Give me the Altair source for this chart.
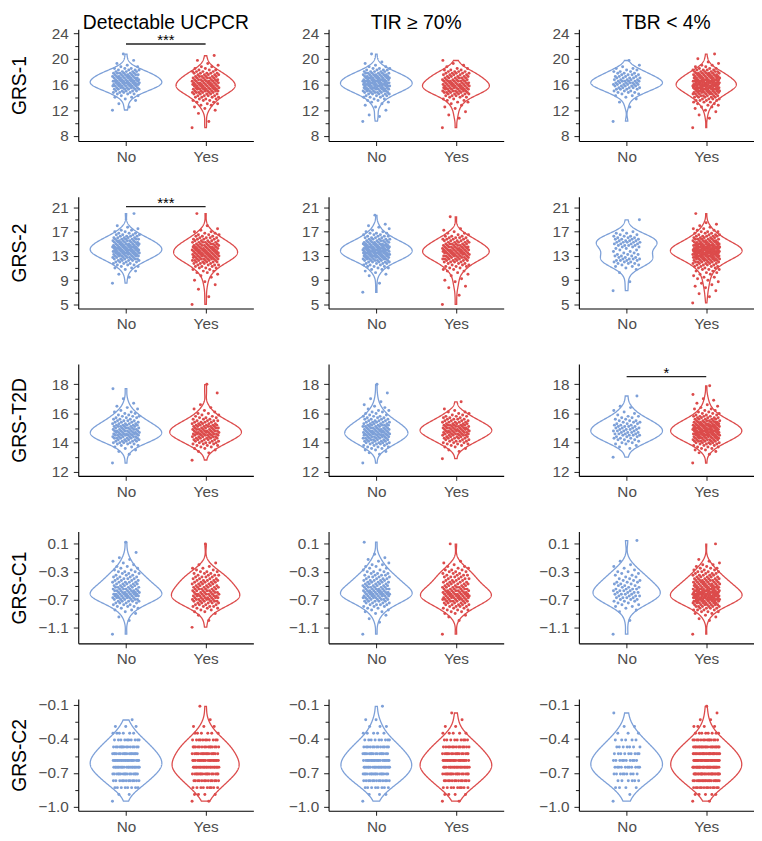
import json
import pandas as pd
import altair as alt

COLUMNS = ["Detectable UCPCR", "TIR ≥ 70%", "TBR < 4%"]
SCORES = ["GRS-1", "GRS-2", "GRS-T2D", "GRS-C1", "GRS-C2"]
GROUPS = ["No", "Yes"]
COLORS = ["#7DA0D8", "#DC4B4B"]

# value grid (lowest level, step) on which the point counts below were read
GRID = {
    "GRS-1": (9.0, 0.25),
    "GRS-2": (5.0, 0.25),
    "GRS-T2D": (12.5, 0.1),
    "GRS-C1": (-1.2, 0.025),
}
GRS_C2_LEVELS = [-0.95, -0.89, -0.83, -0.77, -0.71, -0.65, -0.59, -0.53,
                 -0.47, -0.41, -0.35, -0.29, -0.23, -0.17, -0.11]

# number of patients at each grid level, read from the jittered points
GRS1 = {
    ("Detectable UCPCR", "No"): [0,0,0,0, 0,0,0,0, 0,0,0,0, 1,0,1,0, 1,0,1,1, 2,2,3,4, 5,6,7,8, 9,9,9,8, 8,7,7,6, 5,4,3,2, 1,1,0,1, 0,0,0,1, 0],
    ("Detectable UCPCR", "Yes"): [0,1,0,0, 0,1,0,0, 0,0,1,0, 1,1,1,2, 2,2,3,3, 4,4,5,6, 7,8,8,8, 8,8,7,7, 6,6,5,5, 4,3,2,2, 1,1,0,1, 0,0,1,0, 0],
    ("TIR ≥ 70%", "No"): [0,0,0,0, 0,1,0,0, 1,1,0,0, 1,0,1,1, 1,2,2,2, 3,4,5,6, 7,8,9,10, 10,10,10,9, 9,8,7,6, 5,4,3,2, 1,1,1,0, 0,0,0,1, 0],
    ("TIR ≥ 70%", "Yes"): [0,1,0,0, 0,0,0,1, 0,1,0,1, 0,1,1,1, 1,2,2,2, 3,4,5,6, 7,7,8,8, 8,7,7,6, 6,5,5,5, 4,3,2,1, 1,1,0,1, 0,0,0,0, 0],
    ("TBR < 4%", "No"): [0,0,0,0, 0,1,0,0, 0,0,0,0, 0,0,1,0, 0,1,0,1, 1,2,2,3, 3,4,5,5, 6,6,6,5, 5,4,4,3, 3,2,2,1, 1,0,0,1, 0,0,0,0, 0],
    ("TBR < 4%", "Yes"): [0,1,0,0, 0,0,0,1, 0,1,0,1, 1,1,2,2, 2,3,4,4, 5,6,7,8, 9,10,11,12, 12,12,11,10, 9,8,8,7, 6,5,3,2, 2,1,1,0, 1,0,0,1, 0],
}
GRS2 = {
    ("Detectable UCPCR", "No"): [0,0,0,0, 0,0,0,0, 0,0,0,0, 0,0,1,0, 0,0,1,0, 1,0,1,1, 2,2,3,3, 4,5,6,6, 7,8,9,9, 9,9,9,8, 8,7,7,6, 5,4,4,3, 2,2,1,1, 1,0,0,0, 0,0,0,0, 1],
    ("Detectable UCPCR", "Yes"): [1,0,0,0, 0,1,0,0, 0,0,1,0, 0,1,0,1, 1,0,1,1, 1,2,2,2, 3,3,4,4, 5,6,7,7, 8,8,8,8, 8,8,7,7, 6,6,5,4, 4,3,3,2, 2,1,1,0, 1,0,0,0, 0,0,0,0, 1],
    ("TIR ≥ 70%", "No"): [0,0,0,0, 0,0,0,0, 1,0,0,0, 0,0,1,0, 0,0,0,1, 1,1,1,2, 2,3,3,4, 5,6,7,8, 9,9,10,10, 10,10,9,9, 8,7,6,5, 4,4,3,3, 2,1,1,1, 1,1,0,0, 0,0,0,1, 0],
    ("TIR ≥ 70%", "Yes"): [1,0,0,0, 0,0,1,0, 0,0,0,1, 1,0,0,1, 1,1,0,1, 1,1,2,2, 2,3,3,3, 4,5,6,6, 7,7,8,8, 8,7,7,6, 6,5,5,4, 4,3,2,2, 1,1,1,0, 0,0,0,0, 0,0,1,0, 0],
    ("TBR < 4%", "No"): [0,0,0,0, 0,0,0,0, 0,1,0,0, 0,0,0,1, 0,0,0,0, 0,1,0,1, 1,2,2,3, 3,4,4,3, 3,3,2,2, 2,2,3,4, 4,5,4,4, 3,3,2,2, 1,1,0,0, 0,0,0,0, 1,0,0,0, 0],
    ("TBR < 4%", "Yes"): [0,1,0,0, 0,1,0,1, 0,1,0,1, 1,1,1,1, 1,1,2,1, 2,2,2,3, 3,4,4,5, 6,7,8,9, 10,11,12,12, 12,12,11,10, 9,8,7,6, 5,5,4,3, 3,2,2,1, 1,1,1,0, 0,0,0,0, 1],
}
GRST2D = {
    ("Detectable UCPCR", "No"): [0,1,0,0,0, 0,0,1,0,1, 1,1,2,2,3, 4,5,5,6,6, 7,7,7,7,6, 6,6,5,5,4, 4,3,3,3,2, 2,2,1,1,1, 1,0,1,0,0, 1,0,0,0,0, 0,0,1,0,0, 0],
    ("Detectable UCPCR", "Yes"): [0,0,0,1,0, 0,0,0,1,1, 1,2,2,3,3, 4,4,5,5,6, 6,7,7,7,6, 6,6,5,5,4, 4,3,3,2,2, 2,1,1,1,1, 0,1,0,0,0, 0,0,0,0,1, 0,0,0,0,0, 1],
    ("TIR ≥ 70%", "No"): [0,1,0,0,0, 0,0,1,1,1, 2,2,3,3,4, 5,5,6,6,7, 7,7,8,7,7, 6,6,6,5,5, 4,4,3,3,2, 2,2,2,1,1, 1,1,0,1,0, 1,0,0,0,1, 0,0,0,0,0, 1],
    ("TIR ≥ 70%", "Yes"): [0,0,0,0,1, 0,0,0,0,1, 1,1,2,2,3, 3,4,4,5,5, 6,6,7,7,7, 7,6,6,5,5, 4,4,3,3,2, 2,2,1,1,0, 0,0,0,1,0, 0,0,0,0,0, 0,0,0,0,0, 0],
    ("TBR < 4%", "No"): [0,0,0,0,0, 1,0,0,0,0, 0,1,1,1,2, 2,2,3,3,3, 4,4,4,4,4, 4,4,3,3,3, 3,2,2,2,1, 1,1,1,0,1, 1,0,0,0,0, 0,0,1,0,0, 0,0,0,0,0, 0],
    ("TBR < 4%", "Yes"): [0,1,0,0,0, 0,0,1,1,1, 2,2,3,3,4, 5,6,7,7,8, 9,9,10,10,10, 9,9,8,8,7, 6,5,5,4,3, 3,2,2,2,1, 1,1,1,0,1, 1,0,0,1,0, 0,0,0,0,1, 0],
}
GRSC1 = {
    ("Detectable UCPCR", "No"): [1,0,0,0, 0,0,0,0, 1,0,1,0, 1,1,2,2, 3,3,4,5, 6,7,8,8, 7,7,6,6, 5,5,5,4, 4,4,3,3, 3,2,2,2, 1,1,1,1, 1,0,0,1, 0,0,0,0, 0,1,0],
    ("Detectable UCPCR", "Yes"): [0,0,0,0, 1,0,0,0, 1,0,0,1, 1,2,2,3, 4,4,5,6, 7,7,7,7, 6,6,6,6, 5,5,5,5, 4,4,4,3, 3,2,2,1, 1,1,0,0, 0,0,0,0, 0,0,0,0, 1,0,0],
    ("TIR ≥ 70%", "No"): [1,0,0,0, 0,0,0,1, 0,1,0,1, 1,2,2,2, 3,4,4,5, 6,7,8,8, 8,7,7,6, 6,5,5,5, 4,4,4,3, 3,2,2,2, 2,1,1,1, 1,0,1,0, 0,0,0,0, 0,1,0],
    ("TIR ≥ 70%", "Yes"): [1,0,0,0, 0,0,0,0, 1,0,1,1, 2,2,3,3, 4,5,5,6, 7,8,8,8, 7,7,6,6, 5,5,5,4, 4,4,4,3, 3,3,2,2, 1,1,1,0, 0,0,0,0, 0,0,0,0, 1,0,0],
    ("TBR < 4%", "No"): [1,0,0,0, 0,0,0,0, 1,0,0,0, 0,1,1,1, 2,2,2,3, 3,4,4,4, 4,4,4,3, 3,3,3,3, 2,2,2,2, 2,1,1,1, 1,0,1,0, 0,0,0,0, 0,0,0,0, 0,0,1],
    ("TBR < 4%", "Yes"): [1,0,0,0, 0,0,0,0, 1,1,1,1, 2,3,4,4, 6,7,8,9, 11,12,12,12, 11,10,10,9, 8,8,7,7, 6,5,5,4, 4,3,3,2, 2,1,1,1, 0,0,0,0, 0,0,0,0, 1,0,0],
}
GRSC2 = {
    ("Detectable UCPCR", "No"): [1,2,8,12,16,20,20,17,14,10,6,3,1,0,0],
    ("Detectable UCPCR", "Yes"): [2,4,9,13,17,21,19,17,15,11,6,3,1,0,1],
    ("TIR ≥ 70%", "No"): [1,3,8,13,17,20,19,16,13,9,5,3,2,0,1],
    ("TIR ≥ 70%", "Yes"): [2,4,9,13,17,20,19,16,13,9,5,2,1,1,0],
    ("TBR < 4%", "No"): [1,1,4,6,9,11,10,9,7,5,3,2,0,1,0],
    ("TBR < 4%", "Yes"): [2,5,13,19,25,29,28,25,20,14,8,4,2,1,1],
}
COUNTS = {"GRS-1": GRS1, "GRS-2": GRS2, "GRS-T2D": GRST2D, "GRS-C1": GRSC1, "GRS-C2": GRSC2}

Y_DOMAIN = {"GRS-1": [7.2, 24.6], "GRS-2": [4.33, 22.8], "GRS-T2D": [11.72, 19.38],
            "GRS-C1": [-1.33, 0.277], "GRS-C2": [-1.035, -0.047]}
Y_MAJOR = {"GRS-1": [8, 12, 16, 20, 24], "GRS-2": [5, 9, 13, 17, 21], "GRS-T2D": [12, 14, 16, 18],
           "GRS-C1": [-1.1, -0.7, -0.3, 0.1], "GRS-C2": [-1.0, -0.7, -0.4, -0.1]}
Y_MINOR = {"GRS-1": [10, 14, 18, 22], "GRS-2": [7, 11, 15, 19], "GRS-T2D": [13, 15, 17],
           "GRS-C1": [-0.9, -0.5, -0.1], "GRS-C2": [-0.85, -0.55, -0.25]}
Y_FORMAT = {"GRS-1": "d", "GRS-2": "d", "GRS-T2D": "d", "GRS-C1": ".1f", "GRS-C2": ".1f"}

SIG_SCORE = ["GRS-1", "GRS-2", "GRS-T2D"]
SIG_OUTCOME = ["Detectable UCPCR", "Detectable UCPCR", "TBR < 4%"]
SIG_Y = [22.3, 21.17, 18.53]
SIG_LABEL = ["***", "***", "*"]

# ---------- build tables ----------
recs = []
for s in SCORES:
    for c in COLUMNS:
        for g in GROUPS:
            counts = COUNTS[s][(c, g)]
            if s == "GRS-C2":
                levels = GRS_C2_LEVELS
            else:
                start, step = GRID[s]
                levels = [round(start + k * step, 4) for k in range(len(counts))]
            i = 0
            for lv, n in zip(levels, counts):
                for _ in range(n):
                    jit = ((i * 0.6180339887) % 1.0 - 0.5) * 0.34
                    recs.append({"score": s, "outcome": c, "grp": g, "value": lv, "jit": round(jit, 4)})
                    i += 1
pts = pd.DataFrame(recs)
sig = pd.DataFrame({"score": SIG_SCORE, "outcome": SIG_OUTCOME, "value": SIG_Y,
                    "label": SIG_LABEL, "g1": ["No"] * 3, "g2": ["Yes"] * 3})

FONT = "Liberation Sans"
PW, PH = 177, 113
cscale = alt.Scale(domain=GROUPS, range=COLORS)
xscale = alt.Scale(domain=[0.4, 2.6], nice=False, zero=False)
xaxis = alt.Axis(values=[1, 2], labelExpr="datum.value == 1 ? 'No' : 'Yes'", title=None,
                 tickSize=4.5, labelPadding=4, labelFontSize=15.5)


def panel(s, c, col_index):
    lo, hi = Y_DOMAIN[s]
    yscale = alt.Scale(domain=[lo, hi], nice=False, zero=False)
    majors = Y_MAJOR[s]
    ticks = sorted(majors + Y_MINOR[s])
    is_major = "indexof(%s, datum.value) >= 0" % json.dumps(majors)
    yaxis_kw = dict(values=ticks, format=Y_FORMAT[s],
                    labelExpr="%s ? datum.label : ''" % is_major,
                    tickSize={"condition": {"test": is_major, "value": 5}, "value": 3.5},
                    labelPadding=5, labelFontSize=15.5, minExtent=41, maxExtent=41,
                    titlePadding=8)
    if col_index == 0:
        yaxis = alt.Axis(title=s, **yaxis_kw)
    else:
        yaxis = alt.Axis(title=None, **yaxis_kw)

    base = alt.Chart(pts).transform_filter(
        (alt.datum.score == s) & (alt.datum.outcome == c))

    violin = base.transform_joinaggregate(
        vmin="min(value)", vmax="max(value)", groupby=["grp"]
    ).transform_density(
        "value", as_=["value", "density"], groupby=["grp", "vmin", "vmax"],
        extent=[lo, hi], steps=400
    ).transform_filter(
        "datum.value >= datum.vmin && datum.value <= datum.vmax"
    ).transform_joinaggregate(
        dmax="max(density)"
    ).transform_calculate(
        xc="datum.grp === 'No' ? 1 : 2"
    ).transform_calculate(
        xl="datum.xc - 0.45 * datum.density / datum.dmax",
        xr="datum.xc + 0.45 * datum.density / datum.dmax",
    ).mark_area(orient="horizontal", filled=False, strokeWidth=1.3).encode(
        y=alt.Y("value:Q", scale=yscale, axis=yaxis),
        x=alt.X("xl:Q", scale=xscale, axis=xaxis),
        x2="xr:Q",
        color=alt.Color("grp:N", scale=cscale, legend=None),
    )

    points = base.transform_calculate(
        px="(datum.grp === 'No' ? 1 : 2) + datum.jit"
    ).mark_circle(size=9, opacity=1).encode(
        y=alt.Y("value:Q", scale=yscale, axis=yaxis),
        x=alt.X("px:Q", scale=xscale, axis=xaxis),
        color=alt.Color("grp:N", scale=cscale, legend=None),
    )
    layers = [violin, points]

    if any((a == s and b == c) for a, b in zip(SIG_SCORE, SIG_OUTCOME)):
        sbase = alt.Chart(sig).transform_filter(
            (alt.datum.score == s) & (alt.datum.outcome == c)
        ).transform_calculate(
            x1="datum.g1 === 'No' ? 1 : 2", x2="datum.g2 === 'No' ? 1 : 2"
        ).transform_calculate(xm="(datum.x1 + datum.x2) / 2")
        rule = sbase.mark_rule(color="#222222", strokeWidth=1.3).encode(
            y=alt.Y("value:Q", scale=yscale, axis=yaxis),
            x=alt.X("x1:Q", scale=xscale, axis=xaxis),
            x2="x2:Q",
        )
        txt = sbase.mark_text(font=FONT, fontSize=15, baseline="alphabetic", dy=1, color="black").encode(
            y=alt.Y("value:Q", scale=yscale, axis=yaxis),
            x=alt.X("xm:Q", scale=xscale, axis=xaxis),
            text="label:N",
        )
        layers += [rule, txt]

    ch = alt.layer(*layers).properties(width=PW, height=PH)
    if s == SCORES[0]:
        ch = ch.properties(title=alt.TitleParams(c, fontSize=19.5, font=FONT, fontWeight="normal",
                                                 color="black", offset=-7, anchor="middle"))
    return ch


panels = []
for s in SCORES:
    for ci, c in enumerate(COLUMNS):
        panels.append(panel(s, c, ci))

chart = alt.concat(
    *panels, columns=3, spacing={"row": 56.25, "column": 76}, bounds="flush"
).properties(
    padding={"left": 2, "top": 0, "right": 0, "bottom": -3}
).configure_view(
    strokeWidth=0
).configure_axis(
    grid=False, domainColor="black", domainWidth=1.1, tickColor="#333333", tickWidth=1.1,
    labelColor="#4D4D4D", labelFont=FONT, titleFont=FONT, titleFontSize=19.5,
    titleFontWeight="normal", titleColor="black"
)

chart.save("out.html", embed_options={"renderer": "svg", "actions": False})
